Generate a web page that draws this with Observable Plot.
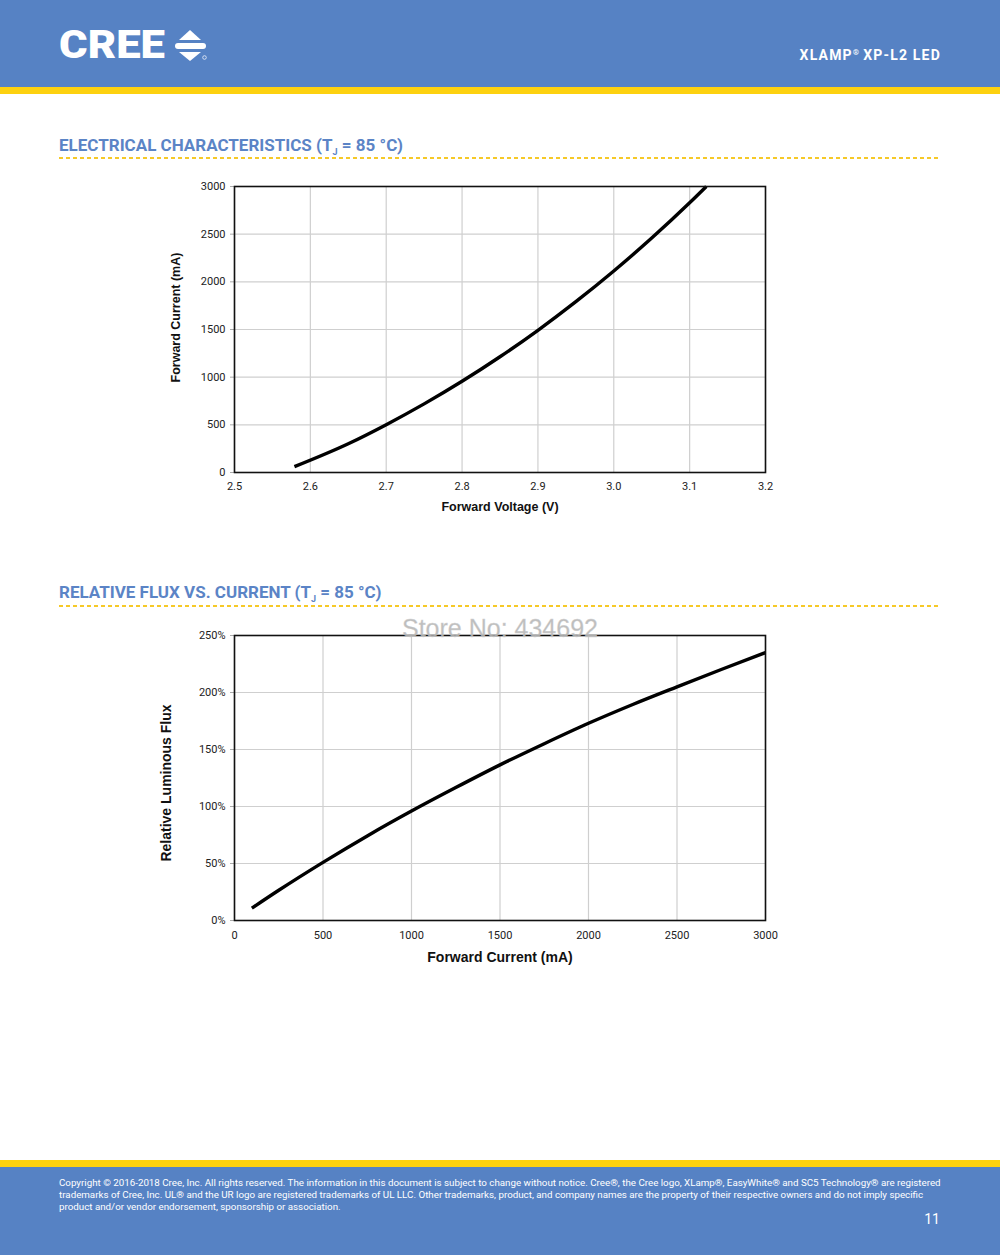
<!DOCTYPE html>
<html>
<head>
<meta charset="utf-8">
<script src="https://cdn.jsdelivr.net/npm/d3@7"></script>
<script src="https://cdn.jsdelivr.net/npm/@observablehq/plot@0.6"></script>
<style>
  html, body { margin: 0; padding: 0; background: #fff; }
  #page { position: relative; width: 1000px; height: 1255px; overflow: hidden; font-family: Roboto, "Liberation Sans", sans-serif; }
  .band-blue { position: absolute; left: 0; width: 1000px; background: #5682c4; }
  .band-yellow { position: absolute; left: 0; width: 1000px; background: #fdd10f; }
  .logo { position: absolute; left: 58px; top: 20px; overflow: visible; }
  .product { position: absolute; right: 59px; top: 47px; color: #fff; font: bold 14px Roboto, sans-serif; letter-spacing: 1.2px; }
  .product sup { font-size: 8px; vertical-align: 5px; letter-spacing: 0; margin-right: 4px; }
  .section { position: absolute; left: 59px; color: #5b84c6; font: bold 17px Roboto, sans-serif; }
  .section sub { font-size: 9px; vertical-align: -4px; }
  .rule { position: absolute; left: 59px; width: 882px; height: 1.5px;
          background-image: repeating-linear-gradient(to right, #f6c928 0 4px, transparent 4px 7px); }
  .chart { position: absolute; left: 150px; }
  .watermark { position: absolute; left: 0; width: 1000px; text-align: center; top: 614px; color: #b8b8b8; font: 25px "Liberation Sans", Arial, sans-serif; -webkit-text-stroke: 0.3px #cfcfcf; opacity: 0.9; }
  .foot { position: absolute; left: 59px; top: 1177px; width: 900px; color: #fff; font: 9.78px/12px Roboto, sans-serif; white-space: nowrap; }
  .pageno { position: absolute; right: 60px; top: 1211px; color: #fff; font: 14px Roboto, sans-serif; }
</style>
</head>
<body>
<div id="page">
  <div class="band-blue" style="top:0;height:88px"></div>
  <div class="band-yellow" style="top:87px;height:7px"></div>
  <svg class="logo" width="160" height="50" viewBox="0 0 160 50">
    <text x="1" y="38" fill="#fff" font-family="Roboto, sans-serif" font-weight="900" font-size="39" textLength="106" lengthAdjust="spacingAndGlyphs">CREE</text>
    <polygon points="132,10 121,20 143,20" fill="#fff"/>
    <rect x="117" y="23" width="31" height="6" rx="3" fill="#fff"/>
    <polygon points="121,32 143,32 132,41" fill="#fff"/>
    <circle cx="146.5" cy="37.5" r="1.8" fill="none" stroke="#fff" stroke-width="0.7"/>
  </svg>
  <div class="product">XLAMP<sup>®</sup>XP-L2 LED</div>

  <div class="section" style="top:135px">ELECTRICAL CHARACTERISTICS (T<sub>J</sub> = 85 °C)</div>
  <div class="rule" style="top:157px"></div>
  <div id="chart1" class="chart" style="top:170px"></div>

  <div class="section" style="top:582px">RELATIVE FLUX VS. CURRENT (T<sub>J</sub> = 85 °C)</div>
  <div class="rule" style="top:605px"></div>
  <div id="chart2" class="chart" style="top:615px"></div>
  <div class="watermark">Store No: 434692</div>

  <div class="band-yellow" style="top:1160px;height:8px"></div>
  <div class="band-blue" style="top:1167px;height:88px"></div>
  <div class="foot">
    <div>Copyright © 2016-2018 Cree, Inc. All rights reserved. The information in this document is subject to change without notice. Cree®, the Cree logo, XLamp®, EasyWhite® and SC5 Technology® are registered</div>
    <div>trademarks of Cree, Inc. UL® and the UR logo are registered trademarks of UL LLC. Other trademarks, product, and company names are the property of their respective owners and do not imply specific</div>
    <div>product and/or vendor endorsement, sponsorship or association.</div>
  </div>
  <div class="pageno">11</div>
</div>
<script>
// Forward voltage (V) vs forward current (mA), Tj = 85 °C
const forwardVoltage = [2.579, 2.65, 2.7, 2.75, 2.8, 2.85, 2.9, 2.95, 3.0, 3.05, 3.1, 3.122];
const forwardCurrent = [62, 302, 502, 720, 957, 1214, 1492, 1792, 2114, 2459, 2829, 3000];
const voltageTicks = [2.5, 2.6, 2.7, 2.8, 2.9, 3.0, 3.1, 3.2];
const currentTicks = [0, 500, 1000, 1500, 2000, 2500, 3000];

// Relative luminous flux (%) vs forward current (mA), Tj = 85 °C
const fluxCurrent = [98, 250, 500, 750, 1000, 1250, 1500, 1750, 2000, 2250, 2500, 2750, 3000];
const relativeFlux = [10.8, 26.5, 51, 74.2, 96, 116.6, 136.5, 155.1, 173, 189.5, 205, 220.2, 235];
const fluxTicks = [0, 50, 100, 150, 200, 250];
const fluxCurrentTicks = [0, 500, 1000, 1500, 2000, 2500, 3000];

const ivData = forwardVoltage.map((v, i) => ({v, i: forwardCurrent[i]}));
const fluxData = fluxCurrent.map((c, i) => ({c, f: relativeFlux[i]}));

const gridColor = "#cfcfcf";
const tickFont = "Roboto, 'Liberation Sans', sans-serif";
const titleFont = "'Liberation Sans', Arial, sans-serif";

function chart({data, x, y, xDomain, yDomain, xTicks, yTicks, xFormat, yFormat, height, marginTop, marginBottom,
                xLabel, yLabel, xLabelSize, yLabelSize, xLabelDy, yLabelDx, yLabelDy, xTickPadding}) {
  return Plot.plot({
    width: 650,
    height,
    marginLeft: 84,
    marginRight: 35,
    marginTop,
    marginBottom,
    style: {fontFamily: tickFont, fontSize: "11px", color: "#222", background: "transparent", overflow: "visible"},
    x: {domain: xDomain},
    y: {domain: yDomain},
    marks: [
      Plot.gridX(xTicks, {stroke: gridColor, strokeOpacity: 1, strokeWidth: 1.2}),
      Plot.gridY(yTicks, {stroke: gridColor, strokeOpacity: 1, strokeWidth: 1.2}),
      Plot.axisX(xTicks, {tickSize: 0, tickPadding: xTickPadding, tickFormat: xFormat, label: null, fill: "#222"}),
      Plot.axisY(yTicks, {tickSize: 4, tickPadding: 5, tickFormat: yFormat, label: null, stroke: "#aaa", fill: "#222"}),
      Plot.line(data, {x, y, stroke: "#000", strokeWidth: 3.4, curve: "monotone-x", strokeLinecap: "butt"}),
      Plot.frame({stroke: "#111", strokeWidth: 1.6}),
      Plot.text([xLabel], {frameAnchor: "bottom", dy: xLabelDy, text: d => d, textAnchor: "middle",
                           fontWeight: "bold", fontSize: xLabelSize, fill: "#111", fontFamily: titleFont}),
      Plot.text([yLabel], {frameAnchor: "left", dx: yLabelDx, dy: yLabelDy, rotate: -90, text: d => d, textAnchor: "middle",
                           fontWeight: "bold", fontSize: yLabelSize, fill: "#111", fontFamily: titleFont})
    ]
  });
}

document.getElementById("chart1").append(chart({
  data: ivData, x: "v", y: "i",
  xDomain: [2.5, 3.2], yDomain: [0, 3000],
  xTicks: voltageTicks, yTicks: currentTicks,
  xFormat: d3.format(".1f"), yFormat: d => String(d),
  height: 360, marginTop: 16, marginBottom: 58,
  xLabel: "Forward Voltage (V)", yLabel: "Forward Current (mA)",
  xLabelSize: 12.5, yLabelSize: 12.5, xLabelDy: 38, yLabelDx: -59, yLabelDy: -12, xTickPadding: 10
}));

document.getElementById("chart2").append(chart({
  data: fluxData, x: "c", y: "f",
  xDomain: [0, 3000], yDomain: [0, 250],
  xTicks: fluxCurrentTicks, yTicks: fluxTicks,
  xFormat: d => String(d), yFormat: d => d + "%",
  height: 365, marginTop: 20, marginBottom: 60,
  xLabel: "Forward Current (mA)", yLabel: "Relative Luminous Flux",
  xLabelSize: 14, yLabelSize: 14, xLabelDy: 41, yLabelDx: -68, yLabelDy: 5, xTickPadding: 11
}));
</script>
</body>
</html>
